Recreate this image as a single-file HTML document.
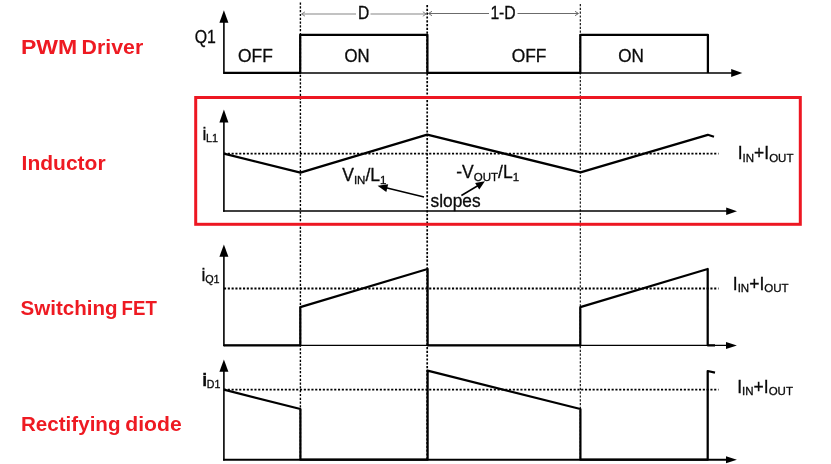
<!DOCTYPE html>
<html>
<head>
<meta charset="utf-8">
<title>Boost converter waveforms</title>
<style>
  html, body { margin: 0; padding: 0; background: #ffffff; }
  body { width: 831px; height: 464px; overflow: hidden; font-family: "Liberation Sans", sans-serif; }
  svg { display: block; will-change: transform; }
  text { font-family: "Liberation Sans", sans-serif; }
  .lbl { font-weight: bold; font-size: 21px; fill: #ee1a22; }
  .t { font-size: 17.5px; fill: #0a0a0a; stroke: #0a0a0a; stroke-width: 0.3; }
  .sub { font-size: 11.5px; }
  .wave { fill: none; stroke: #000; stroke-width: 2.25; stroke-linejoin: round; stroke-linecap: butt; }
  .axis { fill: none; stroke: #000; stroke-width: 1.6; stroke-linecap: butt; }
  .hdot { fill: none; stroke: #000; stroke-width: 1.8; stroke-dasharray: 2.1 1.7; }
  .vdot { fill: none; stroke: #000; stroke-width: 1.4; stroke-dasharray: 2.2 1.6; }
  .dim { fill: none; stroke: #808080; stroke-width: 0.95; }
  .dim2 { fill: none; stroke: #5a5a5a; stroke-width: 0.9; }
</style>
</head>
<body>
<svg width="831" height="464" viewBox="0 0 831 464">

  <!-- vertical dotted guides -->
  <line class="vdot" x1="300.4" y1="2.5" x2="300.4" y2="460"/>
  <line class="vdot" x1="427.2" y1="5" x2="427.2" y2="460" style="stroke-width:1.7"/>
  <line class="vdot" x1="580.3" y1="4" x2="580.3" y2="460" style="stroke-width:1.1"/>

  <!-- red highlight box -->
  <rect x="195.7" y="97.5" width="604.6" height="126.8" fill="none" stroke="#ed1722" stroke-width="3"/>

  <!-- left labels -->
  <text class="lbl" x="20.9" y="54.4" textLength="56.3" lengthAdjust="spacingAndGlyphs">PWM</text>
  <text class="lbl" x="81.6" y="54.4" textLength="61.6" lengthAdjust="spacingAndGlyphs">Driver</text>
  <text class="lbl" x="21.6" y="170.3" textLength="84" lengthAdjust="spacingAndGlyphs">Inductor</text>
  <text class="lbl" x="20.6" y="315.2" textLength="97" lengthAdjust="spacingAndGlyphs">Switching</text>
  <text class="lbl" x="121.6" y="315.2" textLength="35.2" lengthAdjust="spacingAndGlyphs">FET</text>
  <text class="lbl" x="21" y="431" textLength="99.5" lengthAdjust="spacingAndGlyphs">Rectifying</text>
  <text class="lbl" x="125.3" y="431" textLength="56.4" lengthAdjust="spacingAndGlyphs">diode</text>

  <!-- ===== PWM driver ===== -->
  <line class="axis" x1="223.9" y1="22" x2="223.9" y2="73.8"/>
  <polygon points="223.9,10.3 219.4,22.8 228.4,22.8" fill="#000"/>
  <line class="axis" x1="223.1" y1="73" x2="732" y2="73"/>
  <polygon points="742.3,73 731.2,69 731.2,77" fill="#000"/>
  <polyline class="wave" points="223.9,72.9 300.2,72.9 300.2,34.8 427.4,34.8 427.4,72.9 580.3,72.9 580.3,34.8 707.9,34.8 707.9,72.9"/>
  <text class="t" x="194.7" y="43.4" textLength="21.2" lengthAdjust="spacingAndGlyphs">Q1</text>
  <text class="t" x="238" y="62" textLength="34.8" lengthAdjust="spacingAndGlyphs">OFF</text>
  <text class="t" x="344.6" y="62" textLength="25.1" lengthAdjust="spacingAndGlyphs">ON</text>
  <text class="t" x="511.7" y="62" textLength="34.7" lengthAdjust="spacingAndGlyphs">OFF</text>
  <text class="t" x="618.3" y="62" textLength="25.6" lengthAdjust="spacingAndGlyphs">ON</text>

  <!-- dimension D -->
  <line class="dim" x1="302" y1="14" x2="356" y2="14"/>
  <line class="dim" x1="370.5" y1="14" x2="426" y2="14"/>
  <polyline class="dim" points="305,11.8 301.5,14 305,16.2"/>
  <polyline class="dim" points="422.8,11.8 426.3,14 422.8,16.2"/>
  <text class="t" x="358" y="19" textLength="11.2" lengthAdjust="spacingAndGlyphs">D</text>
  <!-- dimension 1-D -->
  <line class="dim2" x1="429" y1="13.5" x2="489" y2="13.5"/>
  <line class="dim2" x1="517.5" y1="13.5" x2="578" y2="13.5"/>
  <polyline class="dim2" points="432,11.3 428.5,13.5 432,15.7"/>
  <polyline class="dim2" points="575,11.3 578.5,13.5 575,15.7"/>
  <text class="t" x="490.4" y="19" textLength="25.3" lengthAdjust="spacingAndGlyphs">1-D</text>

  <!-- ===== Inductor ===== -->
  <line class="axis" x1="223.9" y1="122" x2="223.9" y2="211.8"/>
  <polygon points="223.9,109.6 219.4,122.6 228.4,122.6" fill="#000"/>
  <line class="axis" x1="223.1" y1="211" x2="727" y2="211"/>
  <polygon points="737,211.2 726.2,207.4 726.2,215" fill="#000"/>
  <line class="hdot" x1="224" y1="153.7" x2="718.5" y2="153.7"/>
  <polyline class="wave" points="223.9,153.7 300.4,172.6 427.2,134.6 580.5,172.4 707.8,134.8 714,136.8"/>
  <text class="t" x="202.5" y="139.7">i<tspan class="sub" dx="-0.3" dy="2.2" style="font-size:10.8px">L1</tspan></text>
  <text class="t" x="342.2" y="181">V<tspan class="sub" dy="2.8">IN</tspan><tspan dy="-2.8">/L</tspan><tspan class="sub" dy="2.8">1</tspan></text>
  <text class="t" x="456.3" y="178.2">-V<tspan class="sub" dy="2.8">OUT</tspan><tspan dy="-2.8">/L</tspan><tspan class="sub" dy="2.8">1</tspan></text>
  <text class="t" x="430.6" y="207.4" textLength="50" lengthAdjust="spacingAndGlyphs">slopes</text>
  <line x1="424" y1="197.1" x2="384" y2="187.3" stroke="#000" stroke-width="1.5"/>
  <polygon points="377.6,185.7 388.2,184.2 386.3,192" fill="#000"/>
  <line x1="461.4" y1="195.5" x2="479" y2="185" stroke="#000" stroke-width="1.5"/>
  <polygon points="484.9,181.3 479.3,189.6 475.1,182.9" fill="#000"/>
  <text class="t" x="737.7" y="159.1">I<tspan class="sub" dy="3">IN</tspan><tspan dy="-3">+I</tspan><tspan class="sub" dy="3">OUT</tspan></text>

  <!-- ===== Switching FET ===== -->
  <line class="axis" x1="223.9" y1="256" x2="223.9" y2="346.2"/>
  <polygon points="223.9,244.4 219.4,256.8 228.4,256.8" fill="#000"/>
  <line class="axis" x1="223.1" y1="345.4" x2="727" y2="345.4" style="stroke-width:1.2"/>
  <polygon points="736.9,345.4 726,341.9 726,348.9" fill="#000"/>
  <line class="hdot" x1="224" y1="288.5" x2="718.5" y2="288.5"/>
  <polyline class="wave" points="223.9,345.3 300.3,345.3 300.3,307.2 427.6,269 427.6,345.3 580.3,345.3 580.3,307.2 707.7,269 707.7,345.3 715,345.3"/>
  <text class="t" x="201.5" y="280.8">i<tspan class="sub" dx="-0.2" dy="2.0" style="font-size:10.8px">Q1</tspan></text>
  <text class="t" x="732.8" y="289.9">I<tspan class="sub" dy="1.8">IN</tspan><tspan dy="-1.8">+I</tspan><tspan class="sub" dy="1.8">OUT</tspan></text>

  <!-- ===== Rectifying diode ===== -->
  <line class="axis" x1="223.9" y1="371" x2="223.9" y2="460.6"/>
  <polygon points="223.9,359.4 219.4,371.8 228.4,371.8" fill="#000"/>
  <line class="axis" x1="223.1" y1="459.8" x2="727" y2="459.8" style="stroke-width:1.9"/>
  <polygon points="736.9,459.8 726,456.3 726,463.3" fill="#000"/>
  <line class="hdot" x1="224" y1="389.7" x2="718.5" y2="389.7"/>
  <polyline class="wave" points="223.9,389.7 300.4,409 300.4,459.7 427.6,459.7 427.6,370.6 580.4,409 580.4,459.7 707.7,459.7 707.7,371 715,372.6"/>
  <text class="t" x="202.2" y="386" style="font-weight:bold">i<tspan class="sub" dx="-0.3" dy="2.2" style="font-weight:normal;font-size:10.6px">D1</tspan></text>
  <text class="t" x="737.2" y="392.8">I<tspan class="sub" dy="1.8">IN</tspan><tspan dy="-1.8">+I</tspan><tspan class="sub" dy="1.8">OUT</tspan></text>
</svg>
</body>
</html>
